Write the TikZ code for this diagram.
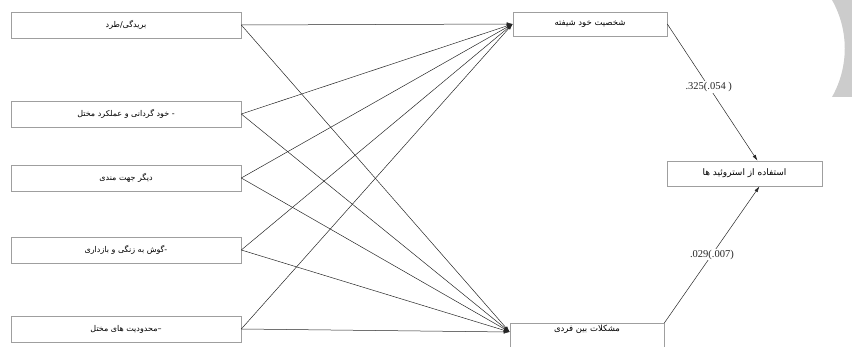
\documentclass[tikz,border=0pt]{standalone}
\usepackage{fontspec}
\setmainfont{Liberation Serif}
\newfontfamily\farsi[Script=Arabic]{DejaVu Sans}
\TeXXeTstate=1
\usetikzlibrary{arrows.meta,positioning}

\begin{document}
\begin{tikzpicture}[
		x=1pt, y=-1pt,
		block/.style={
			rectangle,
			draw=gray!75,
			line width=0.6pt,
			inner sep=0pt,
			minimum width=230pt,
			minimum height=26pt,
			font=\farsi\fontsize{8}{9}\selectfont
		},
		midblock/.style={block, minimum width=154pt, minimum height=24pt, font=\farsi\fontsize{8.5}{9}\selectfont},
		arrow/.style={-{Latex[length=6pt,width=3.5pt]}, line width=0.5pt, black!85},
		coef/.style={fill=white, inner sep=1pt, font=\fontsize{10.5}{12}\selectfont}
		]
		\useasboundingbox (0,0) rectangle (852,347);
		\fill[gray!40] (832,0) .. controls (849,30) and (849,67) .. (832,97) -- (852,97) -- (852,0) -- cycle;
		
		\node[block] (rej) at (126,25) {\beginR بریدگی/طرد\endR};
		\node[block] (auton) at (126,114) {\beginR - خود گردانی و عملکرد مختل\endR};
		\node[block] (other) at (126,178) {\beginR دیگر جهت مندی\endR};
		\node[block] (vigil) at (126,250) {\beginR -گوش به زنگی و بازداری\endR};
		\node[block] (limit) at (126,329) {\beginR –محدودیت های مختل\endR};
		
		\node[midblock] (narc) at (590,24) {\beginR شخصیت خود شیفته\endR};
		\node[midblock, anchor=north, minimum height=0pt, inner ysep=3pt, text height=5pt, text depth=17pt] (inter) at (587,323) {\beginR مشکلات بین فردی\endR};
		\node[midblock, minimum width=155pt, minimum height=25pt, font=\farsi\fontsize{9}{10}\selectfont] (steroid) at (744.5,173.5) {\beginR استفاده از استروئید ها\endR};
		
		\draw[arrow] (rej.east) -- (narc.west);
		\draw[arrow] (rej.east) -- ([yshift=-9pt]inter.north west);
		\draw[arrow] (auton.east) -- (narc.west);
		\draw[arrow] (auton.east) -- ([yshift=-9pt]inter.north west);
		\draw[arrow] (other.east) -- (narc.west);
		\draw[arrow] (other.east) -- ([yshift=-9pt]inter.north west);
		\draw[arrow] (vigil.east) -- (narc.west);
		\draw[arrow] (vigil.east) -- ([yshift=-9pt]inter.north west);
		\draw[arrow] (limit.east) -- (narc.west);
		\draw[arrow] (limit.east) -- ([yshift=-9pt]inter.north west);
		
		\draw[arrow] (narc.east) -- ([xshift=13pt]steroid.north) node[coef, pos=0.46] {.325(.054 )};
		\draw[arrow] (inter.north east) -- ([xshift=15pt]steroid.south) node[coef, pos=0.5] {.029(.007)};
	\end{tikzpicture}
\end{document}
